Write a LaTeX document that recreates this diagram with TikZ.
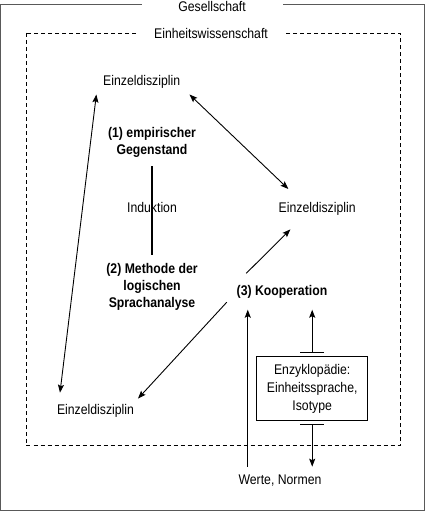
\documentclass[tikz,border=0pt]{standalone}
\usepackage{fontspec}
\setmainfont[FakeStretch=0.875]{Liberation Sans}
\usetikzlibrary{arrows.meta}

\begin{document}
\begin{tikzpicture}[x=1pt,y=-1pt,
  every node/.style={font=\fontsize{14}{18}\selectfont, inner sep=0pt, outer sep=0pt},
  disziplin/.style={text height=10pt, text depth=3pt, anchor=base},
  thema/.style={font=\fontsize{14}{17}\selectfont\bfseries, align=center, anchor=north},
  rahmen/.style={fill=white, text height=10pt, text depth=3pt, anchor=base},
  pfeil/.style={-{Stealth[length=8pt,width=6pt,inset=1.5pt]}, line width=0.9pt},
  doppelpfeil/.style={{Stealth[length=8pt,width=6pt,inset=1.5pt]}-{Stealth[length=8pt,width=6pt,inset=1.5pt]}, line width=0.9pt},
  balkenpfeil/.style={{Bar[width=24pt]}-{Stealth[length=8pt,width=6pt,inset=1.5pt]}, line width=1.1pt, shorten <=4pt}]
\useasboundingbox (0,0) rectangle (425,511);

\draw[black!65, line width=1pt] (0.5,5) rectangle (424.5,510);
\node[rahmen, minimum width=141pt] (gesellschaft) at (212,11.3) {Gesellschaft};
\draw[dash pattern=on 4pt off 3pt, line width=0.9pt] (26,33) rectangle (400,445.5);
\node[rahmen, minimum width=147pt] (einheit) at (211,38.5) {Einheitswissenschaft};

\node[disziplin, inner xsep=9.3pt, inner ysep=6.5pt] (ez1) at (141.7,85) {Einzeldisziplin};
\node[disziplin, inner ysep=13.7pt] (ez2) at (317.2,212.7) {Einzeldisziplin};
\node[disziplin, inner xsep=4pt, inner ysep=11.6pt] (ez3) at (95.5,414.3) {Einzeldisziplin};
\node[disziplin, font=\fontsize{14}{17}\selectfont\bfseries, inner xsep=10pt, inner ysep=11.7pt] (koop) at (282,295) {(3) Kooperation};
\node[disziplin, inner ysep=7.3pt] (werte) at (280,484) {Werte, Normen};
\node[disziplin] (induktion) at (152,212) {Induktion};
\node[thema] (gegenstand) at (152,127.5) {(1) empirischer\\Gegenstand};
\node[thema] (methode) at (152,263) {(2) Methode der\\logischen\\Sprachanalyse};
\node[draw, line width=0.9pt, minimum width=111pt, minimum height=63.3pt, align=center] (enz) at (312.2,388.4) {Enzyklop\"adie:\\Einheitssprache,\\Isotype};

\draw[line width=2.6pt, shorten <=8.8pt, shorten >=8pt] (gegenstand.south) -- (methode.north);
\draw[doppelpfeil] (ez1.196) -- (ez3.153.8);
\draw[doppelpfeil] (ez1.south east) -- (ez2.145.3);
\draw[pfeil] (koop.153.1) -- (ez2.217.4);
\draw[pfeil] (koop.191.2) -- (ez3.16.4);
\draw[pfeil, line width=1.1pt] (koop.208.3 |- werte.north) -- (koop.208.3);
\draw[balkenpfeil] (enz.north) -- (enz.north |- koop.south);
\draw[balkenpfeil] (enz.south) -- (enz.south |- werte.north);
\end{tikzpicture}
\end{document}
